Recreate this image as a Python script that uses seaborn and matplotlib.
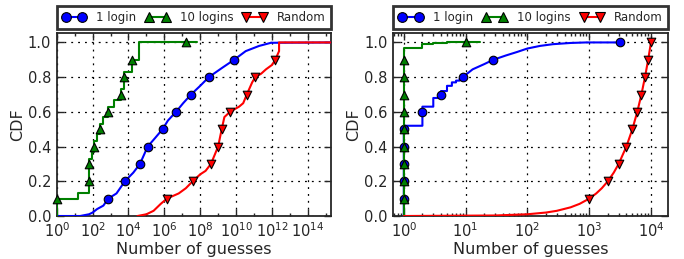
import numpy as np
import matplotlib
matplotlib.use("Agg")
import matplotlib.pyplot as plt
import matplotlib.ticker as mticker
from matplotlib.lines import Line2D
import seaborn as sns

# ---- left panel: log10(number of guesses) ----
left_one_x = [0, 1.3, 1.8, 2.0, 2.25, 2.6, 2.87, 3.33, 3.8, 4.27, 4.64, 5.07, 5.49, 5.9, 6.2,
              6.65, 7.05, 7.49, 8.0, 8.48, 9.23, 9.89, 10.54, 11.29, 11.95, 15.5]
left_one_cdf = [0, 0, 0.01, 0.02, 0.04, 0.06, 0.1, 0.13, 0.2, 0.25, 0.3, 0.4, 0.45, 0.5, 0.55,
                0.6, 0.65, 0.7, 0.75, 0.8, 0.854, 0.9, 0.95, 0.98, 0.998, 1.0]
left_one_mk_x = [2.87, 3.8, 4.64, 5.07, 5.9, 6.65, 7.5, 8.48, 9.89]
left_one_mk_cdf = [0.1, 0.2, 0.3, 0.4, 0.5, 0.6, 0.7, 0.8, 0.9]

left_ten_x = [0, 0, 1.2, 1.2, 1.8, 1.8, 1.95, 1.95, 2.05, 2.05, 2.25, 2.25, 2.4, 2.4, 2.6, 2.6,
              2.87, 2.87, 3.2, 3.2, 3.58, 3.58, 3.76, 3.76, 4.2, 4.2, 4.6, 4.6, 7.8]
left_ten_cdf = [0, 0.1, 0.1, 0.13, 0.13, 0.33, 0.33, 0.37, 0.37, 0.43, 0.43, 0.47, 0.47, 0.53,
                0.53, 0.57, 0.57, 0.63, 0.63, 0.67, 0.67, 0.73, 0.73, 0.83, 0.83, 0.9, 0.9, 1.0, 1.0]
left_ten_mk_x = [0, 1.8, 1.8, 2.08, 2.4, 2.87, 3.58, 3.76, 4.2, 7.2]
left_ten_mk_cdf = [0.1, 0.2, 0.3, 0.4, 0.5, 0.6, 0.7, 0.8, 0.9, 1.0]

left_rand_x = [4.5, 5.0, 5.4, 5.8, 6.14, 6.8, 7.2, 7.58, 8.0, 8.3, 8.6, 9.0, 9.2, 9.35, 9.66,
               10.17, 10.4, 10.6, 10.9, 11.07, 11.4, 11.67, 12.0, 12.19, 12.4, 12.4, 15.5]
left_rand_cdf = [0, 0.01, 0.03, 0.07, 0.1, 0.13, 0.16, 0.2, 0.24, 0.26, 0.3, 0.4, 0.5, 0.57, 0.6,
                 0.63, 0.65, 0.7, 0.77, 0.8, 0.82, 0.845, 0.87, 0.9, 0.95, 1.0, 1.0]
left_rand_mk_x = [6.14, 7.58, 8.6, 9.0, 9.2, 9.66, 10.6, 11.07, 12.19]
left_rand_mk_cdf = [0.1, 0.2, 0.3, 0.4, 0.5, 0.6, 0.7, 0.8, 0.9]

# ---- right panel: number of guesses ----
right_one_x = [1, 1, 2, 2, 3, 3, 4, 4, 5, 5, 6, 6, 7, 7, 8, 8, 9, 9, 13, 20, 28, 45, 68, 100,
               160, 260, 500, 900, 3100]
right_one_cdf = [0, 0.52, 0.52, 0.63, 0.63, 0.68, 0.68, 0.72, 0.72, 0.75, 0.75, 0.77, 0.77, 0.78,
                 0.78, 0.79, 0.79, 0.8, 0.845, 0.875, 0.9, 0.925, 0.945, 0.965, 0.98, 0.99, 0.997,
                 1.0, 1.0]
right_one_mk_x = [1, 1, 1, 1, 1, 2, 4, 9, 28, 3100]
right_one_mk_cdf = [0.1, 0.2, 0.3, 0.4, 0.5, 0.6, 0.7, 0.8, 0.9, 1.0]

right_ten_x = [1, 1, 2, 2, 3, 3, 5, 5, 17]
right_ten_cdf = [0, 0.97, 0.97, 0.99, 0.99, 0.995, 0.995, 1.0, 1.0]
right_ten_mk_x = [1, 1, 1, 1, 1, 1, 1, 1, 1, 10]
right_ten_mk_cdf = [0.1, 0.2, 0.3, 0.4, 0.5, 0.6, 0.7, 0.8, 0.9, 1.0]

right_rand_x = [1, 30, 100, 200, 300, 500, 700, 1000, 1300, 1600, 2000, 2500, 3000, 4000, 5000,
                6000, 7000, 8000, 9000, 10000]
right_rand_cdf = [0, 0.003, 0.01, 0.02, 0.03, 0.05, 0.07, 0.1, 0.13, 0.16, 0.2, 0.25, 0.3, 0.4,
                  0.5, 0.6, 0.7, 0.8, 0.9, 1.0]
right_rand_mk_x = [1000, 2000, 3000, 4000, 5000, 6000, 7000, 8000, 9000, 10000]
right_rand_mk_cdf = [0.1, 0.2, 0.3, 0.4, 0.5, 0.6, 0.7, 0.8, 0.9, 1.0]

labels = ["1 login", "10 logins", "Random"]
colors = ["#0000ff", "#008000", "#ff0000"]
markers = ["o", "^", "v"]

sns.set_style("ticks")
plt.rcParams["font.family"] = ["DejaVu Sans"]
plt.rcParams["mathtext.fontset"] = "dejavusans"

fig = plt.figure(figsize=(6.84, 2.59), dpi=100)
ax1 = fig.add_axes([0.083, 0.166, 0.401, 0.707])
ax2 = fig.add_axes([0.575, 0.166, 0.402, 0.707])


def draw_series(ax, x, y, mx, my, color, marker, z):
    sns.lineplot(x=x, y=y, ax=ax, color=color, lw=1.5, sort=False, estimator=None, zorder=z)
    sns.scatterplot(x=mx, y=my, ax=ax, color=color, marker=marker, s=38,
                    edgecolor="black", linewidth=0.8, zorder=z + 0.5, clip_on=False)


left = [
    (np.power(10.0, left_one_x), left_one_cdf, np.power(10.0, left_one_mk_x), left_one_mk_cdf),
    (np.power(10.0, left_ten_x), left_ten_cdf, np.power(10.0, left_ten_mk_x), left_ten_mk_cdf),
    (np.power(10.0, left_rand_x), left_rand_cdf, np.power(10.0, left_rand_mk_x), left_rand_mk_cdf),
]
right = [
    (right_one_x, right_one_cdf, right_one_mk_x, right_one_mk_cdf),
    (right_ten_x, right_ten_cdf, right_ten_mk_x, right_ten_mk_cdf),
    (right_rand_x, right_rand_cdf, right_rand_mk_x, right_rand_mk_cdf),
]

for ax, series in [(ax1, left), (ax2, right)]:
    for i, (x, y, mx, my) in enumerate(series):
        draw_series(ax, x, y, mx, my, colors[i], markers[i], 3 + i)
    ax.set_xscale("log")
    ax.set_ylim(0, 1.055)
    ax.set_yticks([0.0, 0.2, 0.4, 0.6, 0.8, 1.0])
    ax.yaxis.set_major_formatter(mticker.FormatStrFormatter("%.1f"))
    ax.grid(True, which="major", color="black", linestyle=(0, (1.5, 4)), linewidth=0.9)
    ax.tick_params(which="both", direction="in", top=True, right=True, labelsize=10.5,
                   width=1, pad=4)
    ax.tick_params(which="major", length=5)
    ax.tick_params(which="minor", length=2.5)
    for sp in ax.spines.values():
        sp.set_linewidth(1.3)
    ax.set_xlabel("Number of guesses", fontsize=11.5, labelpad=1)
    ax.set_ylabel("CDF", fontsize=11.5, labelpad=2)

    handles = [Line2D([], [], color=colors[i], marker=markers[i], markersize=7, lw=1.5,
                      markeredgecolor="black", markeredgewidth=0.8) for i in range(3)]
    leg = ax.legend(handles, labels, loc="lower left", bbox_to_anchor=(0, 1.02, 1, 0.1),
                    mode="expand", ncol=3, numpoints=2, fontsize=8.5, handlelength=2.0,
                    handletextpad=0.9, columnspacing=0.5, borderaxespad=0, borderpad=0.45,
                    fancybox=False, frameon=True)
    leg.get_frame().set_edgecolor("black")
    leg.get_frame().set_linewidth(2)

ax1.set_xlim(1, 10 ** 15.3)
ax1.xaxis.set_major_locator(mticker.FixedLocator(10.0 ** np.arange(0, 15, 2)))
ax1.xaxis.set_minor_locator(mticker.FixedLocator(10.0 ** np.arange(1, 16, 2)))
ax1.xaxis.set_major_formatter(mticker.FuncFormatter(lambda v, p: r"$10^{%d}$" % round(np.log10(v))))
ax1.xaxis.set_minor_formatter(mticker.NullFormatter())

ax2.set_xlim(10 ** -0.17, 10 ** 4.28)
ax2.xaxis.set_major_locator(mticker.LogLocator(base=10, numticks=10))
ax2.xaxis.set_minor_locator(mticker.LogLocator(base=10, subs=np.arange(2, 10), numticks=10))
ax2.xaxis.set_minor_formatter(mticker.NullFormatter())

fig.savefig("out.png", dpi=100)
